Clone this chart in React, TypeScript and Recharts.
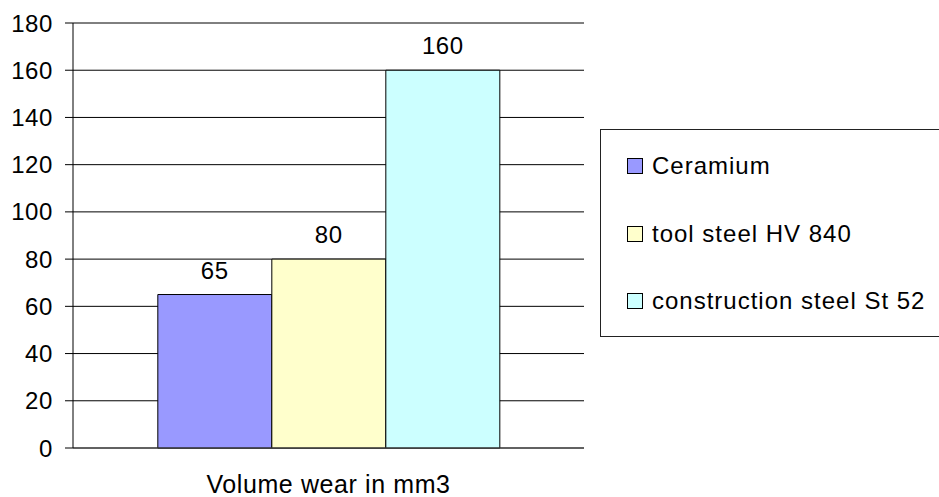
import { BarChart, Bar, XAxis, YAxis, CartesianGrid, LabelList, ReferenceLine } from "recharts";

const categories = ["Volume wear in mm3"];
const seriesNames = ["Ceramium", "tool steel HV 840", "construction steel St 52"];
const ceramium = [65];
const toolSteel = [80];
const constructionSteel = [160];
const yTicks = [0, 20, 40, 60, 80, 100, 120, 140, 160, 180];
const colors = ["#9999FF", "#FFFFCC", "#CCFFFF"];

const data = categories.map((name, i) => ({
  name,
  ceramium: ceramium[i],
  toolSteel: toolSteel[i],
  construction: constructionSteel[i],
}));

const font = "'Liberation Sans', Arial, sans-serif";
const labelStyle = { fill: "#000", fontSize: 24, fontFamily: font, letterSpacing: 0.6 };

function LegendBox() {
  return (
    <div
      style={{
        position: "absolute",
        left: 600,
        top: 129,
        width: 345,
        height: 208,
        border: "1px solid #222",
        boxSizing: "border-box",
        background: "#fff",
        fontFamily: font,
        fontSize: 24,
        letterSpacing: 1,
        color: "#000",
      }}
    >
      {seriesNames.map((name, i) => (
        <div
          key={name}
          style={{
            position: "absolute",
            left: 26,
            top: 36 + i * 67.5 - 14,
            height: 28,
            display: "flex",
            alignItems: "center",
            whiteSpace: "nowrap",
          }}
        >
          <span
            style={{
              display: "inline-block",
              width: 14,
              height: 14,
              background: colors[i],
              border: "1px solid #000",
              marginRight: 9,
            }}
          />
          {name}
        </div>
      ))}
    </div>
  );
}

export default function App() {
  return (
    <div style={{ position: "absolute", left: 0, top: 0, width: 939, height: 497, background: "#fff", overflow: "hidden" }}>
      <BarChart
        width={939}
        height={497}
        data={data}
        margin={{ top: 23, right: 355, bottom: 0, left: 0 }}
        barGap={0}
        barCategoryGap="16.6%"
      >
        <CartesianGrid horizontal vertical={false} stroke="#000" />
        <XAxis
          dataKey="name"
          axisLine={{ stroke: "#444" }}
          tickLine={false}
          tickSize={0}
          tickMargin={27}
          height={49}
          tick={{ fill: "#000", fontSize: 25, fontFamily: font, letterSpacing: 0.6 }}
        />
        <YAxis
          domain={[0, 180]}
          ticks={yTicks}
          interval={0}
          width={73}
          axisLine={{ stroke: "#000" }}
          tickLine={{ stroke: "#000" }}
          tickSize={8}
          tickMargin={12}
          tick={labelStyle}
        />
        <YAxis
          yAxisId="right"
          orientation="right"
          domain={[0, 180]}
          width={0}
          tick={false}
          tickLine={false}
          axisLine={{ stroke: "#808080" }}
        />
        <ReferenceLine y={180} stroke="#808080" />
        <Bar dataKey="ceramium" name={seriesNames[0]} fill={colors[0]} stroke="#000" isAnimationActive={false}>
          <LabelList dataKey="ceramium" position="top" offset={16} style={labelStyle} />
        </Bar>
        <Bar dataKey="toolSteel" name={seriesNames[1]} fill={colors[1]} stroke="#000" isAnimationActive={false}>
          <LabelList dataKey="toolSteel" position="top" offset={16} style={labelStyle} />
        </Bar>
        <Bar dataKey="construction" name={seriesNames[2]} fill={colors[2]} stroke="#000" isAnimationActive={false}>
          <LabelList dataKey="construction" position="top" offset={16} style={labelStyle} />
        </Bar>
      </BarChart>
      <LegendBox />
    </div>
  );
}
